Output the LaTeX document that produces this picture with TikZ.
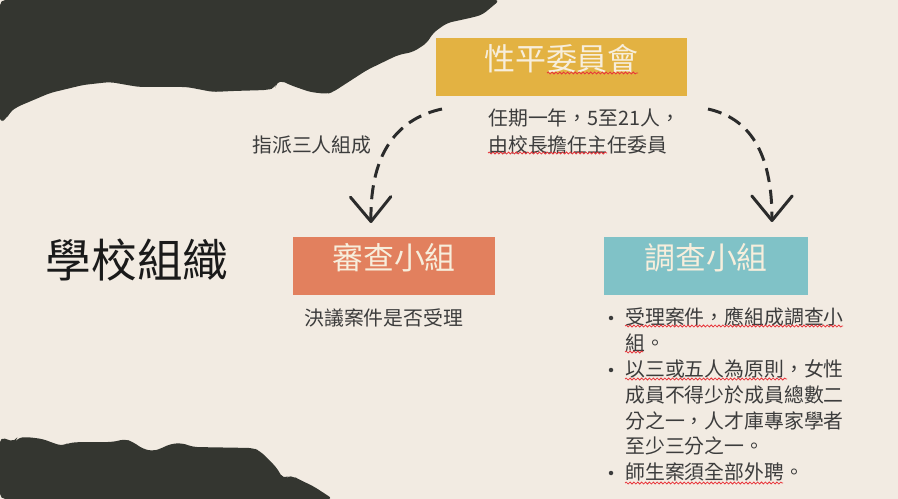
\documentclass[tikz,border=0pt]{standalone}
\usepackage{fontspec}
\setmainfont{Noto Sans CJK TC}
\usetikzlibrary{arrows.meta,decorations.pathmorphing}
\definecolor{bg}{HTML}{F2EBE2}
\definecolor{dark}{HTML}{343630}
\definecolor{gold}{HTML}{E3B242}
\definecolor{coral}{HTML}{E2805E}
\definecolor{tealbox}{HTML}{80C2C7}
\definecolor{cream}{HTML}{F7EEDC}
\definecolor{ink}{HTML}{3C3C3C}
\definecolor{titleink}{HTML}{1A1A1A}
\definecolor{arrowink}{HTML}{2B2B2B}
\definecolor{wavy}{HTML}{E8343A}
\begin{document}
\begin{tikzpicture}[x=0.02cm,y=-0.02cm,
  box/.style={draw=none, minimum height=1.16cm, inner sep=0pt, text=cream,
    font=\fontsize{17.6}{20}\selectfont, text height=14pt, text depth=9.6pt},
  small/.style={inner sep=0pt, anchor=west, text=ink, font=\fontsize{11.3}{13}\selectfont},
  dot/.style={circle, fill=ink, inner sep=0pt, minimum size=0.09cm},
  dasharrow/.style={line width=1.7pt, dash pattern=on 8pt off 4.5pt, draw=arrowink,
    -{Straight Barb[length=14pt,width=23pt,line width=1.7pt,round]}},
  squiggle/.style={draw=wavy, line width=0.45pt, decorate,
    decoration={snake, amplitude=0.55pt, segment length=2.2pt}},
]
\useasboundingbox (0,0) rectangle (898,499);
\fill[bg] (0,0) rectangle (898,499);
% dark torn shapes
\fill[dark, rounded corners=3pt] (0,0) -- (500,0) -- (482,15) -- (470,18) -- (447,23) -- (433,33) -- (427,43)
  -- (413,52) -- (398,55) -- (367,70) -- (333,92) -- (327,94) -- (310,92) -- (290,85) -- (280,80)
  -- (277,83) -- (275,88) -- (267,90) -- (233,91) -- (213,92) -- (187,87) -- (140,87) -- (133,86)
  -- (110,82) -- (83,85) -- (50,93) -- (17,107) -- (10,112) -- (7,118) -- (0,123) -- cycle;
\fill[dark, rounded corners=3pt] (0,437) -- (15,442) -- (17,438) -- (27,437) -- (43,439) -- (53,443)
  -- (63,446) -- (68,443) -- (80,442) -- (113,442) -- (125,439) -- (133,442) -- (143,449) -- (153,451)
  -- (160,449) -- (170,444) -- (182,443) -- (193,447) -- (253,448) -- (260,451) -- (267,458)
  -- (277,468) -- (283,479) -- (287,477) -- (293,476) -- (300,480) -- (313,486) -- (333,499)
  -- (0,499) -- cycle;
% boxes
\node[box, fill=gold, minimum width=5.02cm] (top) at (561.5,67) {性平委員會};
\node[box, fill=coral, minimum width=4.04cm] (review) at (394,266) {審查小組};
\node[box, fill=tealbox, minimum width=4.08cm] (invest) at (706,266) {調查小組};
% title
\node[inner sep=0pt, text=titleink, font=\fontsize{26}{30}\selectfont] (title) at (137,260) {學校組織};
% small texts
\node[small] (assign) at (252,145) {指派三人組成};
\node[small] (term1) at (488,118) {任期一年，5至21人，};
\node[small] (term2) at (488,145) {由校長擔任主任委員};
\node[small] (decide) at (304,318) {決議案件是否受理};
% list
\node[dot] (b1) at (611,318) {};
\node[dot] (b3) at (611,370) {};
\node[dot] (b7) at (611,473) {};
\node[small] (l1) at (625,317) {受理案件，應組成調查小};
\node[small] (l2) at (625,343) {組。};
\node[small] (l3) at (625,369) {以三或五人為原則，女性};
\node[small] (l4) at (625,395) {成員不得少於成員總數二};
\node[small] (l5) at (625,421) {分之一，人才庫專家學者};
\node[small] (l6) at (625,446) {至少三分之一。};
\node[small] (l7) at (625,472) {師生案須全部外聘。};
% arrows
\coordinate (ls) at (442,109);
\coordinate (le) at (371,223);
\coordinate (rs) at (708,109);
\coordinate (re) at (772,222);
\draw[dasharrow] (ls) .. controls (400,118) and (370,150) .. (le);
\draw[dasharrow] (rs) .. controls (748,118) and (772,150) .. (re);
% spell-check squiggles
\draw[squiggle] (547,73) -- (638,73);
\draw[squiggle] (488,153) -- (607,153);
\draw[squiggle] (625,326) -- (843,326);
\draw[squiggle] (625,352) -- (643,352);
\draw[squiggle] (625,379) -- (787,379);
\draw[squiggle] (625,483) -- (783,483);
\end{tikzpicture}
\end{document}
